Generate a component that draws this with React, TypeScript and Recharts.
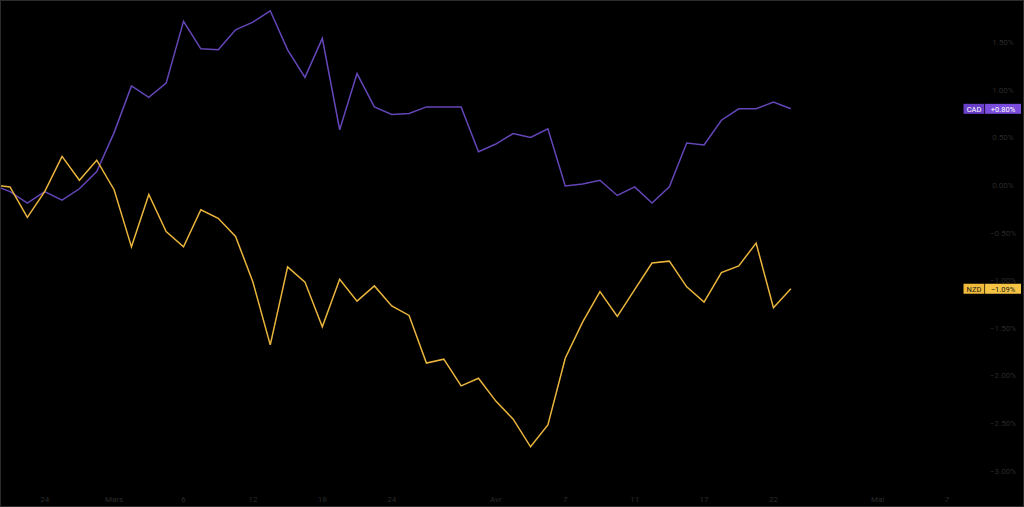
// CAD vs NZD performance comparison — dark trading-terminal style.
import { Line, LineChart, ReferenceDot, XAxis, YAxis } from 'recharts'

// Percent change per bar, first bar sits just left of the visible edge.
const CAD = [
  0.0, -0.07, -0.19, -0.07, -0.16, -0.04, 0.14, 0.55, 1.04, 0.92, 1.07, 1.72,
  1.43, 1.42, 1.63, 1.71, 1.83, 1.42, 1.13, 1.54, 0.58, 1.17, 0.82, 0.74,
  0.75, 0.82, 0.82, 0.82, 0.35, 0.43, 0.54, 0.5, 0.59, -0.01, 0.01, 0.05,
  -0.11, -0.02, -0.19, -0.02, 0.44, 0.42, 0.68, 0.8, 0.8, 0.87, 0.8,
]
const NZD = [
  0.0, -0.02, -0.34, -0.07, 0.3, 0.05, 0.26, -0.05, -0.65, -0.1, -0.49, -0.65,
  -0.26, -0.35, -0.54, -1.02, -1.68, -0.86, -1.02, -1.49, -0.99, -1.22, -1.06,
  -1.27, -1.37, -1.87, -1.83, -2.11, -2.03, -2.27, -2.46, -2.75, -2.52, -1.82,
  -1.44, -1.12, -1.38, -1.1, -0.82, -0.8, -1.07, -1.23, -0.92, -0.85, -0.61,
  -1.29, -1.09,
]

// Date labels sit on bar indices (bar 0 = first bar fully inside the pane).
const X_TICKS = [2, 6, 10, 14, 18, 22, 28, 32, 36, 40, 44, 50, 54]
const X_LABELS = ['24', 'Mars', '6', '12', '18', '24', 'Avr', '7', '11', '17', '22', 'Mai', '7']
const Y_TICKS = [-3, -2.5, -2, -1.5, -1, -0.5, 0, 0.5, 1, 1.5]

const data = CAD.map((cad, i) => ({ bar: i - 1, cad, nzd: NZD[i] }))
const LAST = data.length - 1

const FONT = 'Roboto, "Noto Sans", sans-serif'
const AXIS_TEXT = '#2a2a2a'

function pct(v: number): string {
  const s = Math.abs(v).toFixed(2) + '%'
  if (v > 0.0001) return '+' + s
  if (v < -0.0001) return '\u2212' + s
  return s
}

function axisPct(v: number): string {
  return (v < 0 ? '\u2212' : '') + Math.abs(v).toFixed(2) + '%'
}

interface BadgeProps {
  cy?: number
  name: string
  value: number
  bg: string
  bgName: string
  text: string
}

/** Price-scale badge pinned to the series' last value. */
function Badge({ cy = 0, name, value, bg, bgName, text }: BadgeProps) {
  const left = 963.5
  return (
    <g>
      <rect x={left} y={cy - 5} width={21} height={10} fill={bgName} />
      <rect x={left + 21.5} y={cy - 5} width={36} height={10} fill={bg} />
      <line x1={left + 21.2} x2={left + 21.2} y1={cy - 5} y2={cy + 5} stroke="rgba(0,0,0,0.45)" strokeWidth={0.8} />
      <text x={left + 10.5} y={cy + 3} textAnchor="middle" fontSize={7.5} fill={text} fontFamily={FONT}>
        {name}
      </text>
      <text x={left + 39.5} y={cy + 3} textAnchor="middle" fontSize={7.5} fill={text} fontFamily={FONT}>
        {pct(value)}
      </text>
    </g>
  )
}

export default function App() {
  return (
    <div style={{ position: 'relative', width: 1024, height: 507, background: '#000' }}>
      <style>{'body{margin:0;background:#000}'}</style>
      <LineChart width={1024} height={507} data={data} margin={{ top: 0, right: 0, left: 0, bottom: 0 }}>
        <XAxis
          type="number"
          dataKey="bar"
          domain={[-0.576, 54.52]}
          allowDataOverflow
          ticks={X_TICKS}
          interval={0}
          height={17}
          axisLine={false}
          tickLine={false}
          tick={({ x, index }: any) => (
            <text x={x} y={502} textAnchor="middle" fontSize={8} fill={AXIS_TEXT} fontFamily={FONT}>
              {X_LABELS[index]}
            </text>
          )}
        />
        <YAxis
          orientation="right"
          type="number"
          domain={[-3.204, 1.943]}
          allowDataOverflow
          ticks={Y_TICKS}
          interval={0}
          width={68}
          axisLine={false}
          tickLine={false}
          tick={({ y, payload }: any) => (
            <text x={1003} y={y + 3} textAnchor="middle" fontSize={8} fill={AXIS_TEXT} fontFamily={FONT}>
              {axisPct(payload.value)}
            </text>
          )}
        />
        <Line
          type="linear"
          dataKey="cad"
          stroke="#6446b8"
          strokeWidth={1.5}
          dot={false}
          activeDot={false}
          isAnimationActive={false}
        />
        <Line
          type="linear"
          dataKey="nzd"
          stroke="#eab53c"
          strokeWidth={1.5}
          dot={false}
          activeDot={false}
          isAnimationActive={false}
        />
        <ReferenceDot
          x={data[LAST].bar}
          y={data[LAST].cad}
          ifOverflow="visible"
          shape={(p: any) => (
            <Badge cy={p.cy} name="CAD" value={data[LAST].cad} bg="#7a4ddc" bgName="#6a3fc8" text="#ffffff" />
          )}
        />
        <ReferenceDot
          x={data[LAST].bar}
          y={data[LAST].nzd}
          ifOverflow="visible"
          shape={(p: any) => (
            <Badge cy={p.cy} name="NZD" value={data[LAST].nzd} bg="#f5c445" bgName="#f0bb3a" text="#1a1a1a" />
          )}
        />
      </LineChart>
      <div
        style={{
          position: 'absolute', inset: 0, border: '1px solid #2c2c2c',
          pointerEvents: 'none', boxSizing: 'border-box',
        }}
      />
    </div>
  )
}
